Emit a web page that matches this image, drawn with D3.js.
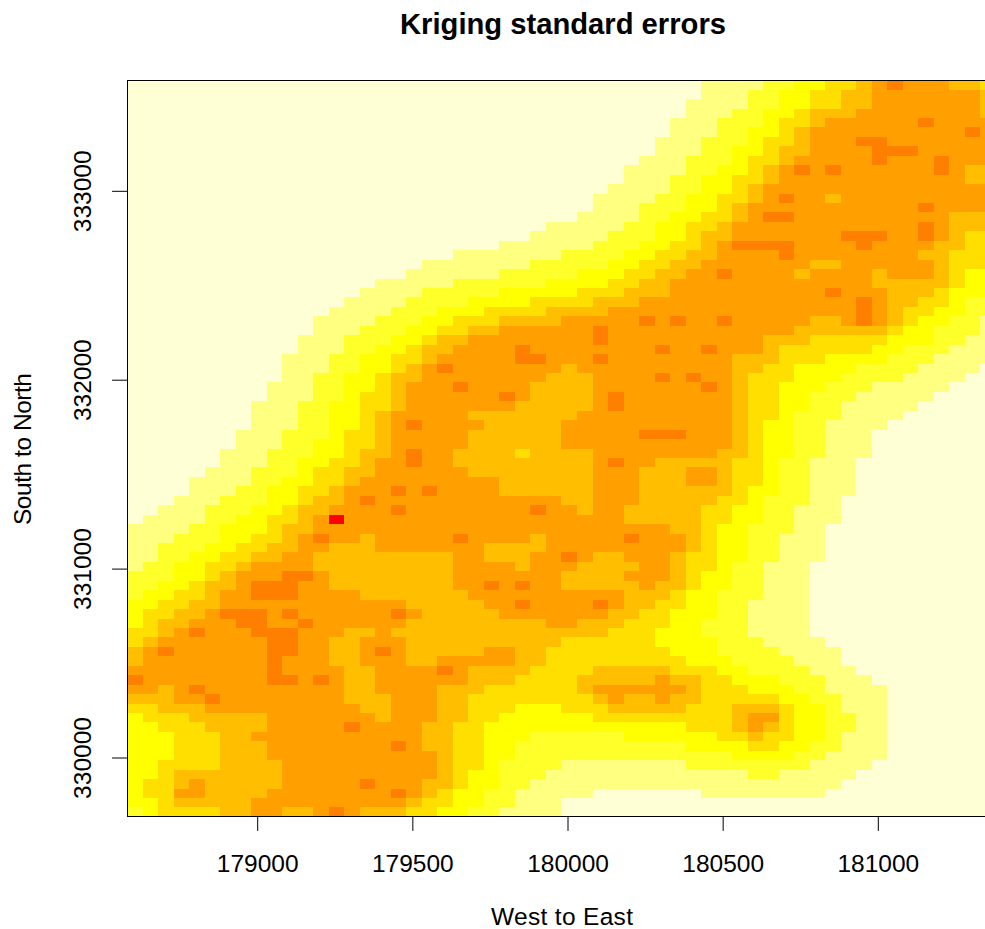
<!DOCTYPE html>
<html>
<head>
<meta charset="utf-8">
<title>Kriging standard errors</title>
<script src="https://cdn.jsdelivr.net/npm/d3@7"></script>
<style>
	html, body { margin: 0; padding: 0; background: #fff; overflow: hidden; }
	svg { display: block; }
	text { font-family: "Liberation Sans", Arial, sans-serif; fill: #000; }
</style>
</head>
<body>
<svg></svg>
<script>
// colour classes of the standard error, low to high
let levelColors = ['#FFFFD5', '#FFFF80', '#FFFF2A', '#FFFF00', '#FFDF00', '#FFBF00', '#FF9F00', '#FF8000', '#FF0000'];

let xTicks = [179000, 179500, 180000, 180500, 181000];
let yTicks = [330000, 331000, 332000, 333000];

let cellSize = 50; // metres
let westEdge = 178579;
let northEdge = 333588;

// one string per grid row, north to south. "level.col" = this level up to column col
let gridRows = [
	"0.37 1.41 2.43 3.45 4.47 5.48 6.49 7.50 6.53 5.55 4.56",
	"0.37 1.40 2.42 3.44 4.46 5.48 6.55 5.56",
	"0.36 1.40 2.42 3.44 4.46 5.48 6.55 5.56",
	"0.36 1.39 2.41 3.43 4.44 5.47 6.55 5.56",
	"0.35 1.38 2.41 3.42 4.44 5.45 6.51 7.52 6.56",
	"0.35 1.38 2.40 3.42 4.43 5.44 6.54 7.55 6.56",
	"0.34 1.37 2.40 3.41 4.43 5.44 6.47 7.49 6.56",
	"0.34 1.37 2.39 3.41 4.42 5.44 6.48 7.51 6.56",
	"0.33 1.36 2.39 3.40 4.42 5.43 6.48 7.49 6.52 7.53 6.56",
	"0.32 1.36 2.38 3.40 4.41 5.42 6.43 7.44 6.45 7.46 6.52 7.53 6.54 5.56",
	"0.32 1.35 2.37 3.39 4.41 5.42 6.54 5.56",
	"0.31 1.35 2.37 3.39 4.40 5.41 6.56",
	"0.30 1.34 2.36 3.38 4.40 5.41 6.42 7.43 6.45 5.46 6.56",
	"0.30 1.33 2.36 3.38 4.39 5.40 6.51 7.52 6.56",
	"0.29 1.33 2.35 3.37 4.39 5.40 6.41 7.43 6.53 5.56",
	"0.27 1.32 2.34 3.36 4.38 5.39 6.51 7.52 6.53 5.56",
	"0.26 1.31 2.34 3.36 4.37 5.39 6.46 7.49 6.51 7.52 6.53 5.54 4.56",
	"0.24 1.30 2.33 3.35 4.37 5.38 6.39 7.43 6.47 7.48 6.52 5.54 4.56",
	"0.21 1.28 2.32 3.34 4.36 5.38 6.42 7.43 6.51 5.53 4.56",
	"0.19 1.26 2.31 3.33 4.35 5.37 6.44 5.46 6.52 5.53 4.56",
	"0.18 1.24 2.29 3.32 4.34 5.36 6.38 7.39 6.43 5.44 6.48 5.49 6.52 5.53 4.54 3.56",
	"0.16 1.21 2.27 3.31 4.33 5.35 6.48 5.53 4.54 3.56",
	"0.15 1.19 2.24 3.29 4.32 5.35 6.45 7.46 6.49 5.52 4.53 3.56",
	"0.14 1.18 2.22 3.26 4.30 5.33 6.47 7.48 6.49 5.51 4.53 3.54 2.56",
	"0.13 1.17 2.20 3.23 4.27 5.31 6.47 7.48 6.49 5.50 4.52 3.54 2.56",
	"0.12 1.16 2.19 3.21 4.24 5.28 6.33 7.34 6.35 7.36 6.38 7.39 6.44 5.46 6.47 7.48 6.49 5.50 4.51 3.53 2.55 1.56",
	"0.12 1.15 2.18 3.20 4.22 5.24 6.30 7.31 6.43 5.49 4.50 3.52 2.55 1.56",
	"0.11 1.14 2.17 3.19 4.20 5.22 6.30 7.31 6.41 5.44 4.49 3.52 2.54 1.56",
	"0.11 1.14 2.16 3.18 4.19 5.21 6.25 7.26 6.34 7.35 6.37 7.38 6.41 5.42 4.48 3.50 2.53 1.56",
	"0.10 1.13 2.15 3.17 4.19 5.20 6.25 7.27 6.30 7.31 6.39 5.42 4.45 3.49 2.52 1.56",
	"0.10 1.13 2.15 3.17 4.18 5.19 6.20 7.21 6.28 5.29 6.39 5.41 4.43 3.47 2.51 1.55 0.56",
	"0.10 1.12 2.14 3.16 4.17 5.19 6.27 5.30 6.34 7.35 6.36 7.37 6.39 5.40 4.43 3.46 2.50 1.54 0.56",
	"0.9 1.12 2.14 3.16 4.17 5.18 6.21 7.22 6.26 5.30 6.37 7.38 6.39 5.40 4.42 3.45 2.48 1.53 0.56",
	"0.9 1.12 2.14 3.15 4.17 5.18 6.24 7.25 6.26 5.30 6.31 7.32 6.39 5.40 4.42 3.44 2.47 1.52 0.56",
	"0.8 1.11 2.13 3.15 4.17 5.18 6.25 5.30 6.31 7.32 6.39 5.40 4.42 3.44 2.46 1.51 0.56",
	"0.8 1.11 2.13 3.15 4.16 5.17 6.22 5.29 6.39 5.40 4.42 3.43 2.46 1.50 0.56",
	"0.8 1.11 2.13 3.15 4.16 5.17 6.18 7.19 6.23 5.28 6.39 5.40 4.41 3.43 2.45 1.49 0.56",
	"0.7 1.10 2.13 3.14 4.16 5.17 6.22 5.28 6.33 7.36 6.39 5.40 4.41 3.43 2.45 1.48 0.56",
	"0.7 1.10 2.12 3.14 4.16 5.17 6.22 5.28 6.39 5.40 4.41 3.43 2.45 1.48 0.56",
	"0.6 1.9 2.12 3.14 4.15 5.17 6.18 7.19 6.21 5.25 4.26 5.30 6.38 5.40 4.41 3.43 2.45 1.48 0.56",
	"0.6 1.9 2.11 3.13 4.15 5.16 6.18 7.19 6.21 5.30 6.31 7.32 6.34 5.39 4.41 3.42 2.44 1.47 0.56",
	"0.5 1.8 2.11 3.12 4.14 5.16 6.22 5.30 6.33 5.36 6.38 5.39 4.41 3.42 2.44 1.47 0.56",
	"0.4 1.8 2.10 3.12 4.14 5.15 6.24 5.30 6.33 5.36 6.38 5.39 4.41 3.42 2.44 1.47 0.56",
	"0.4 1.7 2.9 3.11 4.13 5.14 6.17 7.18 6.19 7.20 6.24 5.30 6.33 5.39 4.40 3.42 2.44 1.47 0.56",
	"0.3 1.6 2.9 3.11 4.12 5.14 6.15 7.16 6.28 5.30 6.33 5.38 4.40 3.41 2.44 1.46 0.56",
	"0.2 1.5 2.8 3.10 4.11 5.13 6.17 7.18 6.26 7.27 6.29 5.30 6.32 5.37 4.39 3.41 2.43 1.46 0.56",
	"0.1 1.5 2.7 3.9 4.11 5.12 6.13 8.14 6.32 5.37 4.39 3.41 2.43 1.46 0.56",
	"1.4 2.6 3.9 4.10 5.12 6.35 5.37 4.38 3.40 2.43 1.45 0.56",
	"1.3 2.6 3.8 4.10 5.11 6.12 7.13 6.15 5.16 6.21 7.22 6.26 5.27 6.32 7.33 6.36 5.37 4.38 3.40 2.42 1.45 0.56",
	"1.2 2.5 3.7 4.9 5.11 6.13 5.16 6.23 5.27 6.36 5.37 4.38 3.40 2.42 1.45 0.56",
	"1.2 2.4 3.6 4.8 5.10 6.12 5.21 6.23 5.26 6.28 7.29 6.30 5.32 6.35 5.36 4.38 3.40 2.42 1.45 0.56",
	"1.1 2.3 3.5 4.7 5.8 6.12 5.21 6.25 5.26 6.29 5.33 6.35 5.36 4.38 3.39 2.41 1.44 0.56",
	"2.3 3.5 4.6 5.7 6.10 7.12 6.13 5.21 6.28 5.32 6.35 5.36 4.37 3.39 2.41 1.44 0.56",
	"2.2 3.4 4.5 5.7 6.8 7.11 6.13 5.21 6.23 7.24 6.25 7.26 6.28 5.33 6.34 5.36 4.37 3.39 2.41 1.44 0.56",
	"2.1 3.3 4.5 5.6 6.8 7.11 6.15 5.22 6.32 5.35 4.36 3.38 2.41 1.44 0.56",
	"3.2 4.4 5.6 6.18 5.23 6.25 7.26 6.30 7.31 6.32 5.34 4.36 3.38 2.40 1.44 0.56",
	"3.1 4.3 5.5 6.6 7.9 6.10 7.11 6.17 7.18 6.19 5.24 6.31 5.33 4.35 3.38 2.40 1.44 0.56",
	"3.1 4.2 5.4 6.7 7.9 6.11 7.12 6.18 5.27 6.29 5.32 4.35 3.37 2.40 1.44 0.56",
	"4.2 5.3 6.4 7.5 6.8 7.11 6.14 5.16 6.17 5.31 4.34 3.37 2.40 1.44 0.56",
	"4.1 5.2 6.9 7.11 6.13 5.15 6.18 5.28 4.34 3.38 2.41 1.45 0.56",
	"5.1 6.2 7.3 6.9 7.11 6.13 5.15 6.16 7.17 6.18 5.23 6.25 5.27 4.35 3.38 2.42 1.46 0.56",
	"5.1 6.9 7.10 6.13 5.15 6.18 5.20 6.25 5.27 4.36 3.39 2.43 1.46 0.56",
	"6.9 7.10 6.14 5.16 6.20 7.21 6.22 5.26 4.30 5.35 4.38 3.40 2.44 1.47 0.56",
	"7.1 6.9 7.11 6.12 7.13 6.14 5.16 6.22 5.25 4.29 5.34 6.35 5.37 4.39 3.42 2.45 1.48 0.56",
	"6.2 5.3 6.4 7.5 6.14 5.16 6.20 5.23 4.29 5.30 6.36 5.37 4.40 3.43 2.45 1.49 0.56",
	"5.3 6.5 7.6 6.14 5.17 6.20 5.22 4.30 5.31 6.32 5.34 6.35 5.37 4.42 3.44 2.46 1.49 0.56",
	"4.2 5.5 6.15 5.17 6.20 5.22 4.25 3.28 4.31 5.36 4.39 5.42 4.43 3.45 2.46 1.49 0.56",
	"3.1 4.4 5.9 6.16 5.17 6.20 5.22 4.24 3.30 4.39 5.40 6.42 4.43 3.45 2.47 1.49 0.56",
	"3.2 4.5 5.9 6.14 7.15 6.19 5.21 4.23 3.36 4.39 5.40 6.41 5.42 4.43 3.45 2.47 1.49 0.56",
	"3.3 4.6 5.8 6.19 5.21 4.23 3.26 2.32 3.38 4.40 5.41 4.43 3.45 2.46 1.49 0.56",
	"3.3 4.6 5.9 6.17 7.18 6.19 5.21 4.23 3.25 2.36 3.40 4.42 3.44 2.46 1.49 0.56",
	"3.3 4.6 5.9 6.20 5.21 4.23 3.25 2.39 3.43 2.45 1.49 0.56",
	"3.2 4.6 5.10 6.20 5.21 4.23 3.24 2.28 1.36 2.44 1.48 0.56",
	"3.2 4.3 5.10 6.20 5.21 4.22 3.24 2.27 1.40 2.42 1.47 0.56",
	"3.1 4.3 5.4 6.5 5.10 6.15 7.16 6.19 5.21 4.22 3.24 2.26 1.46 0.56",
	"3.1 4.3 6.5 5.9 6.17 7.18 6.19 5.20 4.21 3.23 2.25 1.30 0.37 1.45 0.56",
	"3.2 4.3 5.8 6.18 5.19 4.21 3.23 2.25 1.28 0.56",
	"2.1 3.2 4.6 5.8 6.10 5.12 6.13 7.14 6.15 5.18 4.20 3.22 2.24 1.28 0.56"
];

let width = 985;
let height = 929;

let svg = d3.select('svg')
	.attr('width', width)
	.attr('height', height);

let x = d3.scaleLinear().domain([179000, 181000]).range([257.7, 878.3]);
let y = d3.scaleLinear().domain([330000, 333000]).range([758, 191.3]);

// expand the runs into one record per cell
let cells = [];
gridRows.forEach(function(row, r) {
	let col = 0;
	row.split(' ').forEach(function(run) {
		let parts = run.split('.');
		while (col < +parts[1]) {
			cells.push({ col: col, row: r, level: +parts[0] });
			col++;
		}
	});
});

svg.append('g')
	.attr('class', 'cellGroup')
	.attr('shape-rendering', 'crispEdges')
	.selectAll('rect')
	.data(cells)
	.enter()
	.append('rect')
	.attr('x', function(d) { return x(westEdge + d.col * cellSize); })
	.attr('y', function(d) { return y(northEdge - d.row * cellSize); })
	.attr('width', function(d) { return x(westEdge + (d.col + 1) * cellSize) - x(westEdge + d.col * cellSize); })
	.attr('height', function(d) { return y(northEdge - (d.row + 1) * cellSize) - y(northEdge - d.row * cellSize); })
	.attr('fill', function(d) { return levelColors[d.level]; });

let southEdge = northEdge - gridRows.length * cellSize;
let eastEdge = westEdge + 57 * cellSize;

// plot box, its right side falls outside the window
svg.append('rect')
	.attr('x', x(westEdge))
	.attr('y', y(northEdge))
	.attr('width', x(eastEdge) - x(westEdge))
	.attr('height', y(southEdge) - y(northEdge))
	.attr('fill', 'none')
	.attr('stroke', '#000')
	.attr('stroke-width', 1)
	.attr('shape-rendering', 'crispEdges');

let xAxis = svg.append('g')
	.attr('transform', 'translate(0,' + y(southEdge) + ')')
	.call(d3.axisBottom(x).tickValues(xTicks).tickFormat(d3.format('d')).tickSize(14).tickPadding(24).offset(0));

let yAxis = svg.append('g')
	.attr('transform', 'translate(' + x(westEdge) + ',0)')
	.call(d3.axisLeft(y).tickValues(yTicks).tickFormat(d3.format('d')).tickSize(15).offset(0));

xAxis.select('.domain').remove();
yAxis.select('.domain').remove();

svg.selectAll('.tick line').attr('stroke', '#000');
svg.selectAll('.tick text')
	.style('font-family', '"Liberation Sans", Arial, sans-serif')
	.style('font-size', '24.5px')
	.attr('fill', '#000');

yAxis.selectAll('.tick text')
	.attr('x', null)
	.attr('dy', null)
	.attr('text-anchor', 'middle')
	.attr('transform', 'translate(-36,0) rotate(-90)');

svg.append('text')
	.attr('x', 563)
	.attr('y', 34)
	.attr('text-anchor', 'middle')
	.style('font-size', '29.2px')
	.style('font-weight', 'bold')
	.text('Kriging standard errors');

svg.append('text')
	.attr('x', 562)
	.attr('y', 925)
	.attr('text-anchor', 'middle')
	.attr('textLength', 142)
	.style('font-size', '24.5px')
	.text('West to East');

svg.append('text')
	.attr('transform', 'translate(31,449) rotate(-90)')
	.attr('text-anchor', 'middle')
	.attr('textLength', 152)
	.style('font-size', '24.5px')
	.text('South to North');
</script>
</body>
</html>
